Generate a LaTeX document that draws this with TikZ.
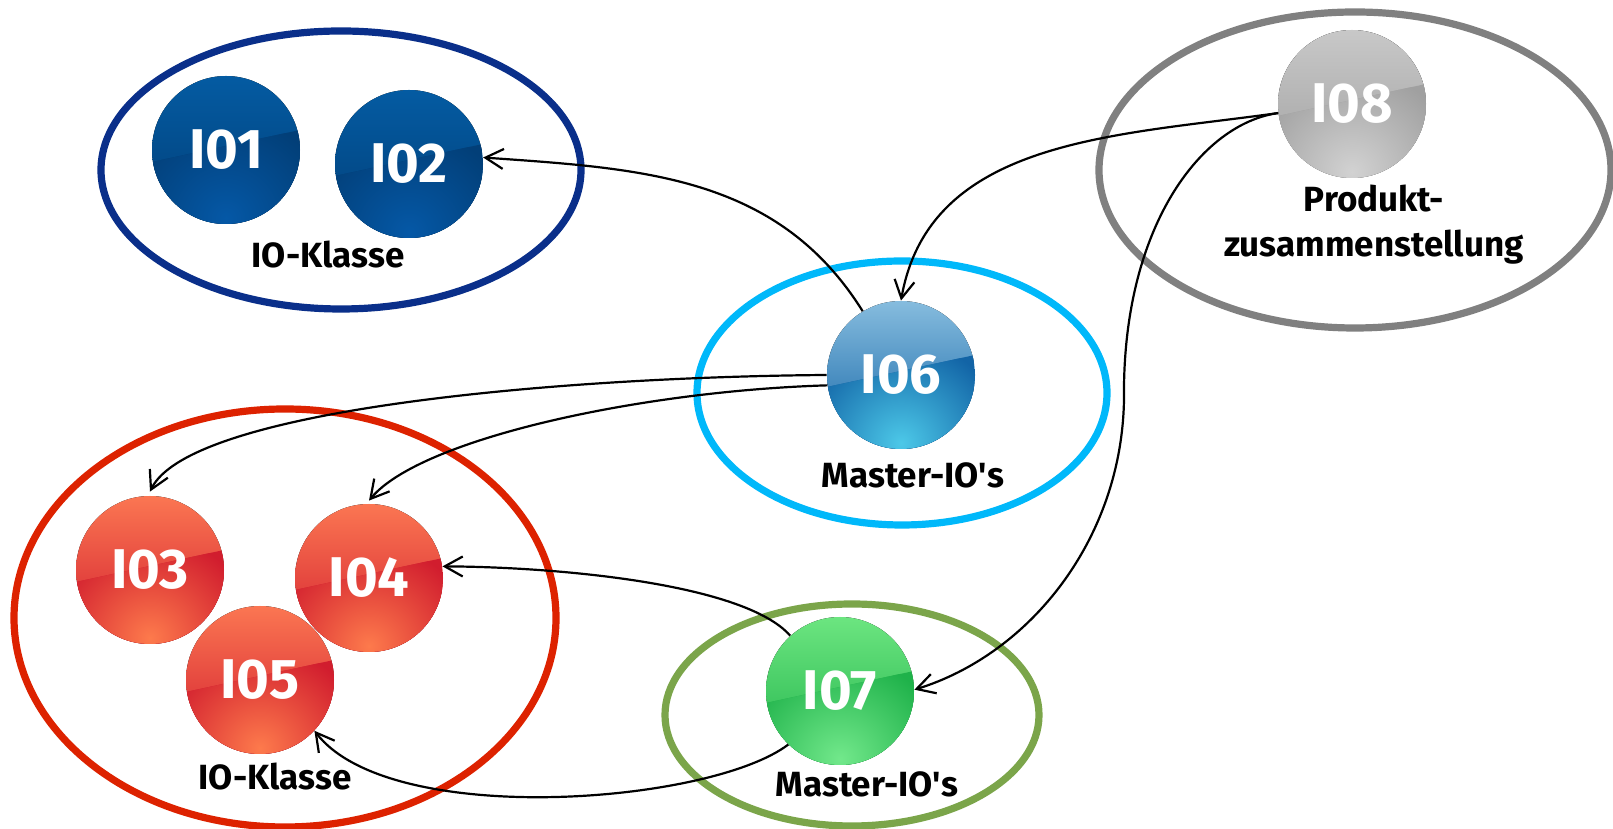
\documentclass[tikz,border=0pt]{standalone}
\usepackage{fontspec}
\setmainfont{Fira Sans}
\usetikzlibrary{arrows.meta}

% ring colours
\definecolor{ringNavy}{HTML}{0A2F8A}
\definecolor{ringSky}{HTML}{00B8FA}
\definecolor{ringGrey}{HTML}{808080}
\definecolor{ringRed}{HTML}{DD2200}
\definecolor{ringGreen}{HTML}{7BA54A}

% glossy ball colours: light top, dark band, bottom glow
\definecolor{navyA}{HTML}{045BA2}\definecolor{navyB}{HTML}{023F78}\definecolor{navyC}{HTML}{0558A6}
\definecolor{skyA}{HTML}{86BCDE}\definecolor{skyB}{HTML}{1264A6}\definecolor{skyC}{HTML}{4CC8E8}
\definecolor{greyA}{HTML}{C8C8C8}\definecolor{greyB}{HTML}{A0A0A0}\definecolor{greyC}{HTML}{D2D2D2}
\definecolor{redA}{HTML}{FB7652}\definecolor{redB}{HTML}{D11D2E}\definecolor{redC}{HTML}{FD7A4C}
\definecolor{greenA}{HTML}{6CE580}\definecolor{greenB}{HTML}{1FB24A}\definecolor{greenC}{HTML}{72E88B}

% glossy fill of a ball: upper gradient, slanted split, glow at the bottom
\newcommand\ballshade[3]{%
  \fill[top color=#1, bottom color=#2]
    (path picture bounding box.north west) rectangle (path picture bounding box.south east);
  \begin{scope}
    \clip ([yshift=-6pt]path picture bounding box.west)
      -- ([yshift=10pt]path picture bounding box.east)
      |- (path picture bounding box.south west) -- cycle;
    \fill[#2] (path picture bounding box.north west) rectangle (path picture bounding box.south east);
    \shade[inner color=#3, outer color=#2]
      ([yshift=-34pt]path picture bounding box.center) circle (52pt);
  \end{scope}
}

\tikzset{
  x=0.5pt, y=0.5pt,
  ring/.style={line width=3.6pt},
  ball/.style n args={3}{circle, minimum size=74pt, inner sep=0pt, text=white,
    font=\fontsize{28}{32}\selectfont\bfseries,
    path picture={\ballshade{#1}{#2}{#3}}},
  navyball/.style={ball={navyA}{navyB}{navyC}},
  skyball/.style={ball={skyA}{skyB}{skyC}},
  greyball/.style={ball={greyA}{greyB}{greyC}},
  redball/.style={ball={redA}{redB}{redC}},
  greenball/.style={ball={greenA}{greenB}{greenC}},
  caption/.style={font=\fontsize{17.5}{22.5}\selectfont\bfseries, align=center, text=black, inner sep=0pt},
  conn/.style={line width=1.1pt, -{Straight Barb[length=9pt, width=10pt, line width=1.1pt]}}
}

\begin{document}
\begin{tikzpicture}
\useasboundingbox (0,0) rectangle (1613,829);

% group rings
\draw[ring, ringNavy]  (341,659) ellipse [x radius=240, y radius=139];
\draw[ring, ringSky]   (902,436) ellipse [x radius=205, y radius=132];
\draw[ring, ringGrey]  (1355,659) ellipse [x radius=256, y radius=158];
\draw[ring, ringRed]   (285,211) ellipse [x radius=271, y radius=209];
\draw[ring, ringGreen] (852,114) ellipse [x radius=187, y radius=111];

% information objects
\node[navyball]  (I01) at (226,679) {I01};
\node[navyball]  (I02) at (409,665) {I02};
\node[redball]   (I03) at (150,259) {I03};
\node[redball]   (I04) at (369,251) {I04};
\node[redball]   (I05) at (260,149) {I05};
\node[skyball]   (I06) at (901,454) {I06};
\node[greenball] (I07) at (840,138) {I07};
\node[greyball]  (I08) at (1352,725) {I08};

% group captions
\node[caption] (capA) at (328,574) {IO-Klasse};
\node[caption] (capB) at (913,354) {Master-IO\textquotesingle s};
\node[caption] (capC) at (1374,604) {Produkt-\\zusammenstellung};
\node[caption] (capD) at (275,52) {IO-Klasse};
\node[caption] (capE) at (867,45) {Master-IO\textquotesingle s};

% relations
\draw[conn] (I06.121) to[out=122, in=-4] (I02.5);
\draw[conn] (I08.187) to[out=188, in=80] (I06.north);
\draw[conn] (I08.187) .. controls (1200,705) and (1122,600) .. (1124,430)
                      .. controls (1122,290) and (1030,175) .. (I07.1);
\draw[conn] (I06.west) .. controls (560,452) and (190,420) .. ([yshift=2pt]I03.north);
\draw[conn] (I06.188) .. controls (640,438) and (420,390) .. ([yshift=1.5pt]I04.north);
\draw[conn] (I07.132) .. controls (745,245) and (560,262) .. (I04.9);
\draw[conn] (I07.226) .. controls (710,25) and (390,0) .. (I05.-43);
\end{tikzpicture}
\end{document}
